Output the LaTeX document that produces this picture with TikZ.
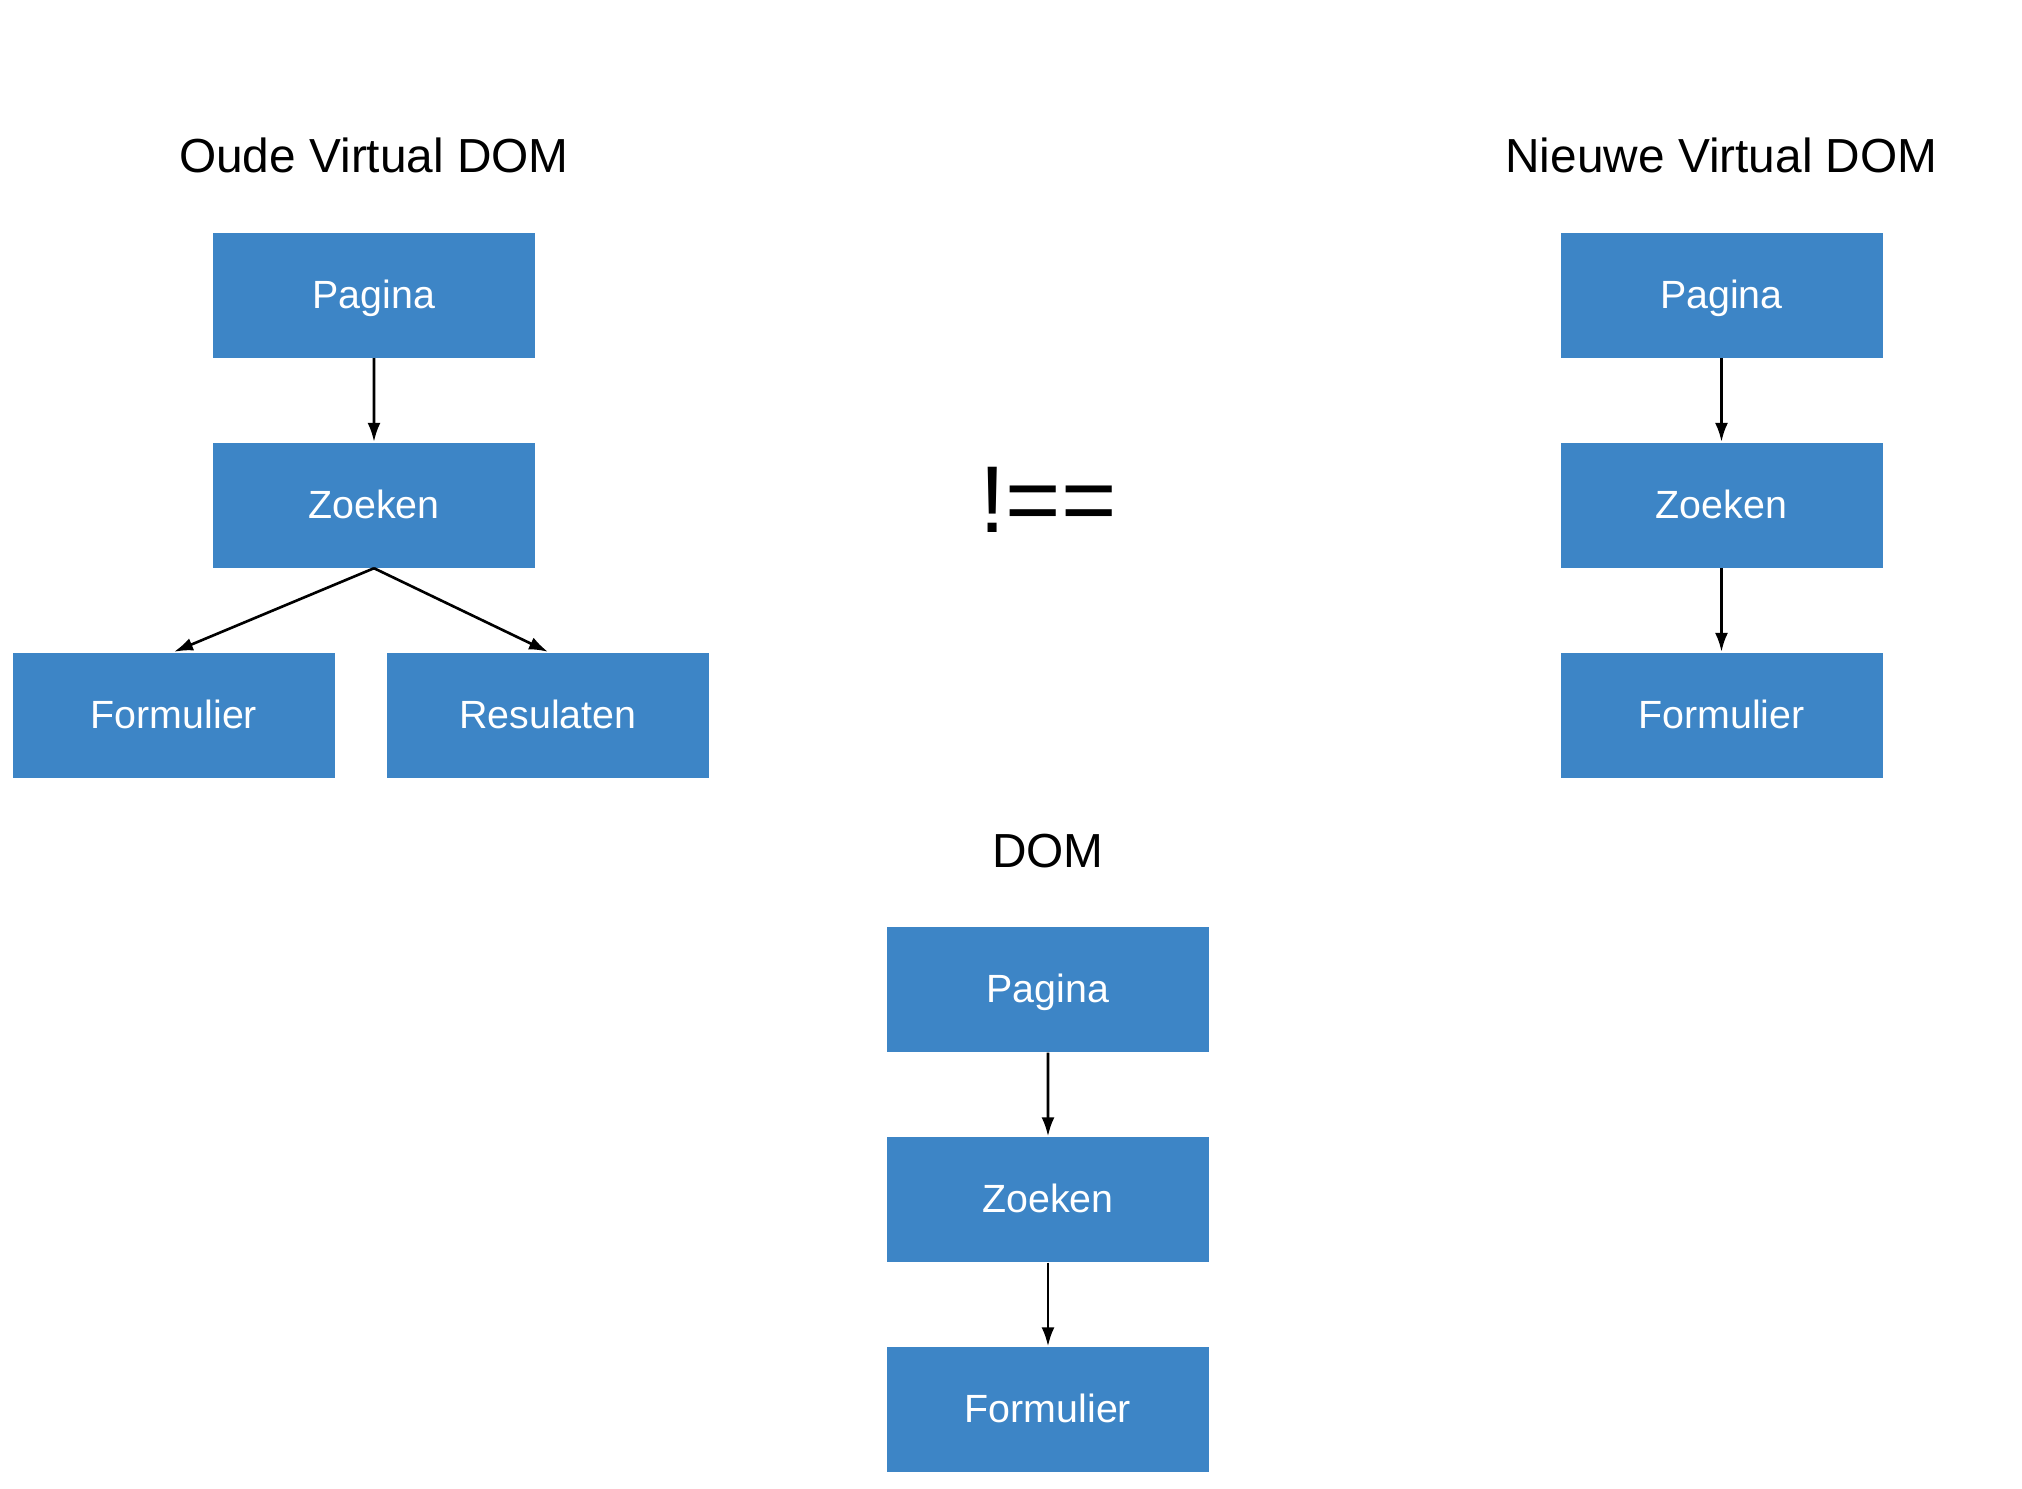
\documentclass[tikz,border=0pt]{standalone}
\usepackage{fontspec}
\setmainfont{Liberation Sans}
\usetikzlibrary{arrows.meta}
\definecolor{domblue}{HTML}{3D85C6}
\tikzset{
  level distance=2.1cm, level 2/.style={sibling distance=3.74cm},
  parent anchor=south, child anchor=north,
  edge from parent/.style={draw, line width=0.75pt, -{Latex[length=1.9mm,width=1.3mm]}},
  dom_box/.style = {fill=domblue, text=white, minimum width=3.22cm, minimum height=1.25cm, inner sep=0pt, text height=1.6ex, text depth=0.2ex, font=\fontsize{11.2}{13}\selectfont},
  dom_title/.style = {font=\fontsize{13.6}{16}\selectfont}
}

\begin{document}
\begin{tikzpicture}
\useasboundingbox (0,0) rectangle (20.22,-14.88);

% oude virtual dom
\node [dom_title] (oTitle) at (3.74,-1.55) {Oude Virtual DOM};
\node [dom_box] (oPagina) at (3.74,-2.95) {Pagina}
	child{ node [dom_box] (oZoeken) {Zoeken}
		child[xshift=-1.3mm]{ node [dom_box] (oFormulier) {Formulier}}
		child[xshift=-1.3mm]{ node [dom_box] (oResulaten) {Resulaten}}
	};

% nieuwe virtual dom
\node [dom_title] (nTitle) at (17.215,-1.55) {Nieuwe Virtual DOM};
\node [dom_box] (nPagina) at (17.215,-2.95) {Pagina}
	child{ node [dom_box] (nZoeken) {Zoeken}
		child{ node [dom_box] (nFormulier) {Formulier}}
	};

\node [font=\fontsize{27}{30}\selectfont] (neq) at (10.48,-5.0) {!==};

% dom
\node [dom_title] (dTitle) at (10.48,-8.51) {DOM};
\node [dom_box] (dPagina) at (10.48,-9.895) {Pagina}
	child{ node [dom_box] (dZoeken) {Zoeken}
		child{ node [dom_box] (dFormulier) {Formulier}}
	};
\end{tikzpicture}
\end{document}
